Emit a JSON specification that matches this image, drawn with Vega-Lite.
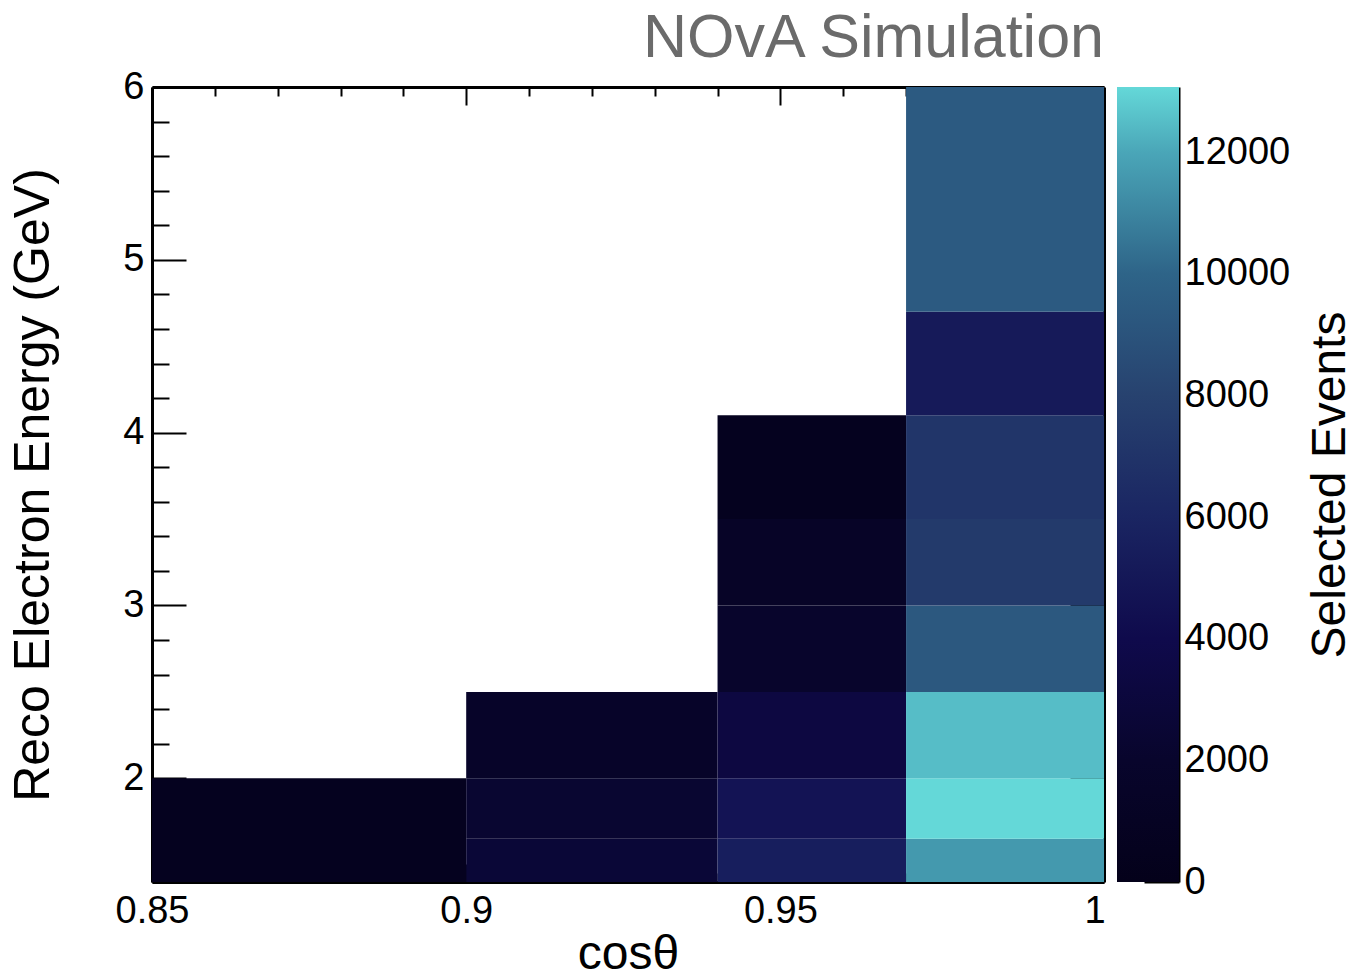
{
  "$schema": "https://vega.github.io/schema/vega-lite/v6.json",
  "background": "white",
  "padding": {"left": 8, "top": 8, "right": 2, "bottom": 0},
  "config": {"view": {"stroke": null}, "font": "Liberation Sans"},
  "bounds": "flush",
  "spacing": 13,
  "hconcat": [
    {
      "width": 952,
      "height": 795,
      "title": {"text": "NOvA Simulation", "anchor": "end", "frame": "group", "fontSize": 61, "font": "Liberation Sans", "fontWeight": "normal", "color": "#6b6b6b", "baseline": "alphabetic", "offset": -50},
      "data": {"values": [
        {"x1": 0.85, "x2": 0.9, "y1": 1.4, "y2": 2.0, "n": 600},
        {"x1": 0.9, "x2": 0.94, "y1": 1.4, "y2": 1.65, "n": 2700},
        {"x1": 0.9, "x2": 0.94, "y1": 1.65, "y2": 2.0, "n": 2300},
        {"x1": 0.9, "x2": 0.94, "y1": 2.0, "y2": 2.5, "n": 1700},
        {"x1": 0.94, "x2": 0.97, "y1": 1.4, "y2": 1.65, "n": 5500},
        {"x1": 0.94, "x2": 0.97, "y1": 1.65, "y2": 2.0, "n": 4700},
        {"x1": 0.94, "x2": 0.97, "y1": 2.0, "y2": 2.5, "n": 3300},
        {"x1": 0.94, "x2": 0.97, "y1": 2.5, "y2": 3.0, "n": 2000},
        {"x1": 0.94, "x2": 0.97, "y1": 3.0, "y2": 3.5, "n": 1400},
        {"x1": 0.94, "x2": 0.97, "y1": 3.5, "y2": 4.1, "n": 500},
        {"x1": 0.97, "x2": 1.0015, "y1": 1.4, "y2": 1.65, "n": 11600},
        {"x1": 0.97, "x2": 1.0015, "y1": 1.65, "y2": 2.0, "n": 13070},
        {"x1": 0.97, "x2": 1.0015, "y1": 2.0, "y2": 2.5, "n": 12500},
        {"x1": 0.97, "x2": 1.0015, "y1": 2.5, "y2": 3.0, "n": 9300},
        {"x1": 0.97, "x2": 1.0015, "y1": 3.0, "y2": 3.5, "n": 7450},
        {"x1": 0.97, "x2": 1.0015, "y1": 3.5, "y2": 4.1, "n": 7100},
        {"x1": 0.97, "x2": 1.0015, "y1": 4.1, "y2": 4.7, "n": 5200},
        {"x1": 0.97, "x2": 1.0015, "y1": 4.7, "y2": 6.0, "n": 9400}
      ]},
      "layer": [
        {
          "mark": {"type": "rect"},
          "encoding": {
            "x": {"field": "x1", "type": "quantitative",
              "scale": {"domain": [0.85, 1.0015], "nice": false, "zero": false},
              "axis": {"orient": "bottom", "grid": false,
                "values": [0.85,0.86,0.87,0.88,0.89,0.9,0.91,0.92,0.93,0.94,0.95,0.96,0.97,0.98,0.99,1],
                "tickSize": {"condition": {"test": "abs(datum.value*20 - round(datum.value*20)) < 0.001", "value": -18}, "value": -9},
                "labelExpr": "abs(datum.value*20 - round(datum.value*20)) < 0.001 ? '' + round(datum.value*100)/100 : ''",
                "labelPadding": 28, "labelFontSize": 38, "labelColor": "black", "labelFlush": false, "labelOverlap": false,
                "tickColor": "black", "tickWidth": 2, "domainColor": "black", "domainWidth": 3,
                "title": "cosθ", "titleFontSize": 48, "titleFontWeight": "normal", "titleColor": "black", "titlePadding": -9}},
            "x2": {"field": "x2"},
            "y": {"field": "y1", "type": "quantitative",
              "scale": {"domain": [1.4, 6], "nice": false, "zero": false},
              "axis": {"orient": "left", "grid": false,
                "values": [1.4,1.6,1.8,2,2.2,2.4,2.6,2.8,3,3.2,3.4,3.6,3.8,4,4.2,4.4,4.6,4.8,5,5.2,5.4,5.6,5.8,6],
                "tickSize": {"condition": {"test": "abs(datum.value - round(datum.value)) < 0.001", "value": -34}, "value": -17},
                "labelExpr": "abs(datum.value - round(datum.value)) < 0.001 ? '' + round(datum.value) : ''",
                "labelPadding": 42, "labelFontSize": 38, "labelColor": "black", "labelFlush": false, "labelOverlap": false,
                "tickColor": "black", "tickWidth": 2, "domainColor": "black", "domainWidth": 3,
                "title": "Reco Electron Energy (GeV)", "titleFontSize": 50, "titleFontWeight": "normal", "titleColor": "black", "titlePadding": 64}},
            "y2": {"field": "y2"},
            "color": {"field": "n", "type": "quantitative",
              "scale": {"domain": [0, 2000, 4000, 6000, 8000, 10000, 12000, 13070],
                        "range": ["#04011a", "#08052c", "#0f0a4c", "#1a2562", "#27426f", "#2e6488", "#4aa6b8", "#64d8d8"],
                        "interpolate": "rgb"},
              "legend": null}
          }
        },
        {
          "mark": {"type": "rect", "opacity": 0},
          "encoding": {
            "x": {"field": "x1", "type": "quantitative",
              "axis": {"orient": "top", "grid": false, "labels": false, "title": null,
                "values": [0.85,0.86,0.87,0.88,0.89,0.9,0.91,0.92,0.93,0.94,0.95,0.96,0.97,0.98,0.99,1],
                "tickSize": {"condition": {"test": "abs(datum.value*20 - round(datum.value*20)) < 0.001", "value": -18}, "value": -9},
                "tickColor": "black", "tickWidth": 2, "domainColor": "black", "domainWidth": 3}},
            "x2": {"field": "x2"},
            "y": {"field": "y1", "type": "quantitative",
              "axis": {"orient": "right", "grid": false, "labels": false, "title": null,
                "values": [1.4,1.6,1.8,2,2.2,2.4,2.6,2.8,3,3.2,3.4,3.6,3.8,4,4.2,4.4,4.6,4.8,5,5.2,5.4,5.6,5.8,6],
                "tickSize": {"condition": {"test": "abs(datum.value - round(datum.value)) < 0.001", "value": -34}, "value": -17},
                "tickColor": "black", "tickWidth": 2, "domainColor": "black", "domainWidth": 3}},
            "y2": {"field": "y2"}
          }
        }
      ]
    },
    {
      "width": 62,
      "height": 795,
      "data": {"values": [{"lo": 0, "hi": 13070}]},
      "mark": {"type": "rect", "stroke": null,
        "fill": {"gradient": "linear", "x1": 0, "y1": 1, "x2": 0, "y2": 0,
          "stops": [
            {"offset": 0, "color": "#04011a"},
            {"offset": 0.153, "color": "#08052c"},
            {"offset": 0.306, "color": "#0f0a4c"},
            {"offset": 0.459, "color": "#1a2562"},
            {"offset": 0.612, "color": "#27426f"},
            {"offset": 0.765, "color": "#2e6488"},
            {"offset": 0.918, "color": "#4aa6b8"},
            {"offset": 1, "color": "#64d8d8"}
          ]}},
      "encoding": {
        "y": {"field": "lo", "type": "quantitative",
          "scale": {"domain": [0, 13070], "nice": false, "zero": false},
          "axis": {"orient": "right", "grid": false, "format": "d",
            "values": [0, 2000, 4000, 6000, 8000, 10000, 12000],
            "tickSize": -35, "labelPadding": 40, "labelFontSize": 38, "labelColor": "black", "labelFlush": false, "labelOverlap": false,
            "tickColor": "black", "tickWidth": 2, "domainColor": "black", "domainWidth": 2,
            "title": "Selected Events", "titleAngle": 270, "titleBaseline": "top", "titleFontSize": 48, "titleFontWeight": "normal", "titleColor": "black", "titlePadding": 17}},
        "y2": {"field": "hi"}
      }
    }
  ]
}
